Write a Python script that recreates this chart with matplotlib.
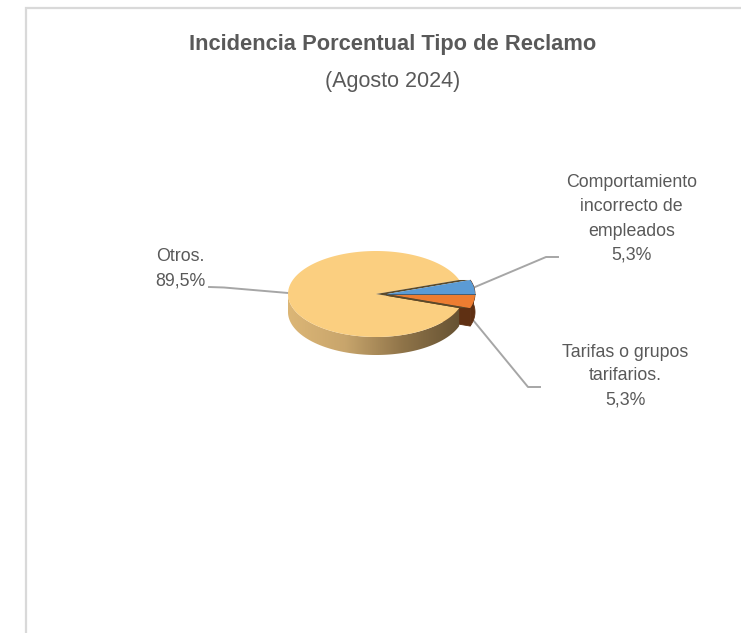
import numpy as np
import matplotlib
matplotlib.use("Agg")
import matplotlib.pyplot as plt
from matplotlib.colors import LinearSegmentedColormap
from matplotlib.patches import Polygon

plt.rcParams['font.family'] = ['Liberation Sans', 'DejaVu Sans']

CATEGORIES = ["Tarifas o grupos\ntarifarios.", "Comportamiento\nincorrecto de\nempleados", "Otros."]
VALUES = [5.3, 5.3, 89.5]
TOP_COLORS = ["#ed7d31", "#5b9bd5", "#fbcf80"]
SIDE_COLOR = "#5f3013"

# pie geometry in pixels
CX, CY = 376, 294
RX, RY = 88, 43
DEPTH = 18
EXPLODE = 11
START = -19.1
TEXT = "#595959"
LEADER = "#a6a6a6"


def arc(a0, a1, dx=0, dy=0):
    t = np.radians(np.linspace(a0, a1, 200))
    return np.column_stack([CX + dx + RX*np.cos(t), CY + dy - RY*np.sin(t)])


def sideFace(a0, a1, dx=0):
    top = arc(a0, a1, dx)
    return np.vstack([top, top[::-1] + [0, DEPTH]])


def wedge(a0, a1, dx=0):
    return np.vstack([[CX + dx, CY], arc(a0, a1, dx)])


def pct(v):
    return f"{v:.1f}%".replace(".", ",")


fig = plt.figure(figsize=(7.41, 6.33), dpi=100)
ax = fig.add_axes([0, 0, 1, 1])
ax.axis("off")

# chart frame, only top and left are inside the crop
ax.plot([741, 25.5, 25.5], [8, 8, 633], c="#d9d9d9", lw=1.6, solid_joinstyle="miter")

edges = START + np.cumsum([0] + VALUES) / sum(VALUES) * 360
a_orange = edges[0], edges[1]
a_blue = edges[1], edges[2]
a_other = edges[2], edges[3]

# sides of the exploded slices go behind the big one
ax.add_patch(Polygon(sideFace(a_orange[0], a_blue[1], EXPLODE), fc=SIDE_COLOR, ec=SIDE_COLOR, lw=0.6, zorder=2))
# radial face of the orange slice fills the brown block under it
low = arc(a_orange[0], a_orange[0], EXPLODE)[0]
apex = np.array([CX + EXPLODE, CY])
ax.add_patch(Polygon([apex, low, low + [0, DEPTH], apex + [0, DEPTH]],
                     fc=SIDE_COLOR, ec=SIDE_COLOR, lw=0.6, zorder=2))

# rim of the big slice, only the front half shows
rim = Polygon(sideFace(180, a_other[1]), fc="none", ec="none", zorder=3)
ax.add_patch(rim)
shade = LinearSegmentedColormap.from_list("rim", ["#dcb676", "#c8a56c", "#8f7449", "#665233"])
img = ax.imshow(np.linspace(0, 1, 256).reshape(1, -1), cmap=shade, aspect="auto",
                extent=(CX - RX, CX + RX*np.cos(np.radians(a_other[1])), CY + RY + DEPTH, CY), zorder=3)
img.set_clip_path(rim)

ax.add_patch(Polygon(wedge(*a_other), fc=TOP_COLORS[2], ec="none", zorder=4))

# gaps between the big slice and the exploded ones show its dark cut faces
cut = arc(a_other[0], a_other[0])[0]
cut_low = arc(a_other[1], a_other[1])[0]
ax.add_patch(Polygon([[CX, CY], cut, cut + [EXPLODE, 0], apex], fc="#5b4a2a", ec="none", zorder=5))
ax.add_patch(Polygon([[CX, CY], cut_low, cut_low + [EXPLODE, 0], apex], fc="#5b4a2a", ec="none", zorder=5))

ax.add_patch(Polygon(wedge(*a_blue, EXPLODE), fc=TOP_COLORS[1], ec="none", zorder=6))
ax.add_patch(Polygon(wedge(*a_orange, EXPLODE), fc=TOP_COLORS[0], ec="none", zorder=6))
ax.plot([CX + EXPLODE, CX + EXPLODE + RX], [CY, CY], c="#3f5f7a", lw=0.7, zorder=7)

# leader lines
ax.plot([475, 546, 558], [287, 257, 257], c=LEADER, lw=1.4, zorder=1)
ax.plot([473, 528, 540], [320, 387, 387], c=LEADER, lw=1.4, zorder=1)
ax.plot([209, 224, 288], [287, 287.5, 293], c=LEADER, lw=1.4, zorder=1)

ax.text(631.5, 219, f"{CATEGORIES[1]}\n{pct(VALUES[1])}", ha="center", va="center",
        fontsize=12.8, color=TEXT, linespacing=1.55)
ax.text(625, 376, f"{CATEGORIES[0]}\n{pct(VALUES[0])}", ha="center", va="center",
        fontsize=12.8, color=TEXT, linespacing=1.52)
ax.text(180, 268.5, f"{CATEGORIES[2]}\n{pct(VALUES[2])}", ha="center", va="center",
        fontsize=12.8, color=TEXT, linespacing=1.6)

ax.text(392.5, 44.5, "Incidencia Porcentual Tipo de Reclamo", ha="center", va="center",
        fontsize=15.75, fontweight="bold", color=TEXT)
ax.text(393, 82, "(Agosto 2024)", ha="center", va="center", fontsize=15.5, color=TEXT)

ax.set_xlim(0, 741)
ax.set_ylim(633, 0)

fig.savefig("out.png", dpi=100)
